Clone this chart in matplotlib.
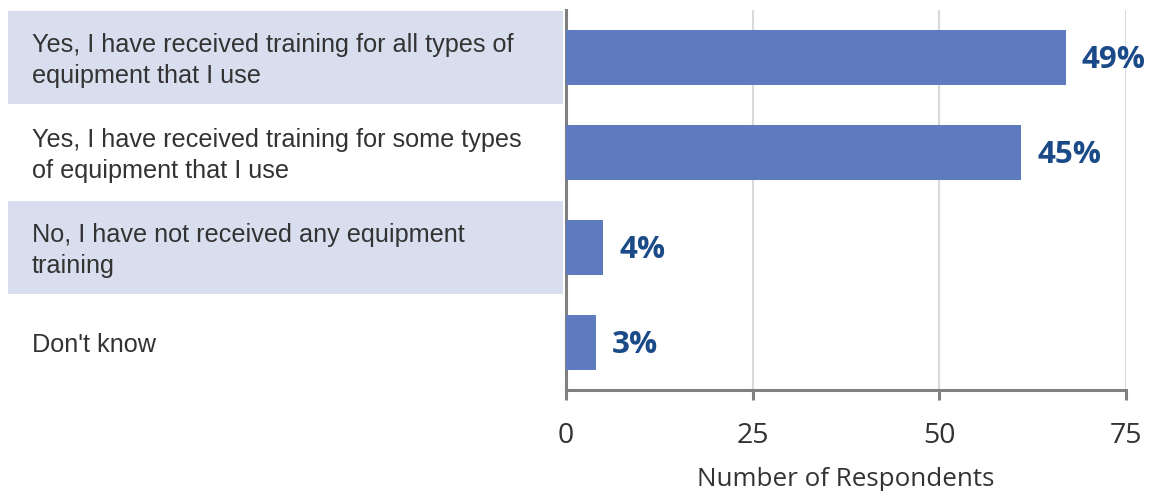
import matplotlib
matplotlib.use("Agg")
import matplotlib.pyplot as plt
import matplotlib.transforms as mtransforms
from matplotlib.patches import Rectangle

categories = [
    "Yes, I have received training for all types of\nequipment that I use",
    "Yes, I have received training for some types\nof equipment that I use",
    "No, I have not received any equipment\ntraining",
    "Don't know",
]
respondents = [67, 61, 5, 4]
pct_labels = ["49%", "45%", "4%", "3%"]
xticks = [0, 25, 50, 75]
xlabel = "Number of Respondents"

W, H = 1150, 491
fig = plt.figure(figsize=(W / 100, H / 100), dpi=100)
ax = fig.add_axes([566 / W, 1 - 390 / H, (1126 - 566) / W, 380 / H])

bar_color = "#5f7bbf"
band_color = "#d8deed"
text_color = "#333333"
pct_color = "#1b4a88"
axis_color = "#808080"
grid_color = "#d9d9d9"

y = list(range(len(categories)))
ax.barh(y, respondents, height=0.57, color=bar_color, zorder=3)
ax.set_ylim(3.5, -0.5)
ax.set_xlim(0, 75)

# label bands and text
trans = mtransforms.blended_transform_factory(fig.transFigure, ax.transData)
for i, cat in enumerate(categories):
    if i % 2 == 0:
        r = Rectangle((8 / W, i - 0.49), (563 - 8) / W, 0.98, transform=trans,
                      facecolor=band_color, edgecolor="none", clip_on=False, zorder=0)
        fig.add_artist(r)
    fig.text(32 / W, i + 0.03, cat, transform=trans, ha="left", va="center",
             fontsize=18.2, color=text_color, family="Liberation Sans",
             linespacing=1.36)

for i, (v, lab) in enumerate(zip(respondents, pct_labels)):
    ax.text(v + 2.1, i + 0.03, lab, ha="left", va="center", fontsize=22.5, fontweight="bold",
            color=pct_color, family="Open Sans", zorder=4)

ax.set_xticks(xticks)
ax.set_yticks([])
ax.xaxis.grid(True, color=grid_color, linewidth=1.5, zorder=0)
ax.set_axisbelow(True)
for s in ["top", "right"]:
    ax.spines[s].set_visible(False)
for s in ["left", "bottom"]:
    ax.spines[s].set_color(axis_color)
    ax.spines[s].set_linewidth(2.2)
ax.tick_params(axis="x", direction="out", length=7, width=2.2, color=axis_color,
               labelsize=20.5, labelcolor=text_color, pad=16)
for lbl in ax.get_xticklabels():
    lbl.set_family("Open Sans")
ax.set_xlabel(xlabel, fontsize=18.7, color=text_color, family="Open Sans", labelpad=12)
ax.patch.set_alpha(0)

fig.savefig("out.png", dpi=100)
